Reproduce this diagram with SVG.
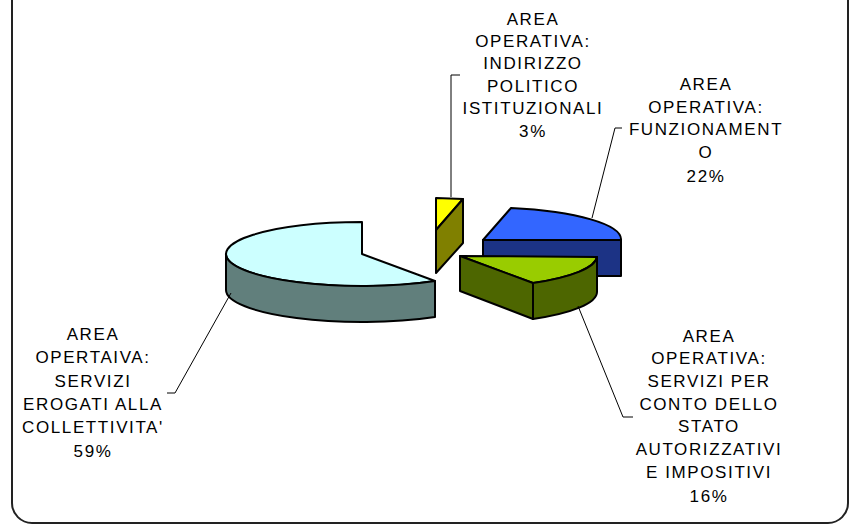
<svg xmlns="http://www.w3.org/2000/svg" width="854" height="524" viewBox="0 0 854 524">
<style>
.pie{stroke:#000;stroke-width:2;stroke-linejoin:round}
.lead{fill:none;stroke:#000;stroke-width:1}
.lbl{font-family:"Liberation Sans",Arial,sans-serif;font-size:17px;letter-spacing:1.6px;fill:#000;text-anchor:middle}
</style>
<rect x="12" y="-30" width="836" height="553" rx="20" ry="20" fill="#fff" stroke="#222" stroke-width="2"/>
<g id="slice-servizi-erogati">
<path class="pie" fill="#CCFFFF" d="M362,254 L362,222 A136,32 0 1,0 435,281 Z"/>
<path class="pie" fill="#617f7c" d="M226,254 A136,32 0 0,0 435,281 L435,317 A136,32 0 0,1 226,290 Z"/>
</g>
<g id="slice-indirizzo">
<path class="pie" fill="#FFFF00" d="M436,230 L436,198 L463,199 Z"/>
<path class="pie" fill="#808000" d="M436,230 L463,199 L463,243 L436,273 Z"/>
</g>
<g id="slice-funzionamento">
<path class="pie" fill="#3366FF" d="M483,240 L511,208 A137,32 0 0,1 621,240 Z"/>
<path class="pie" fill="#1C3385" d="M483,240 L621,240 L621,276 L483,276 Z"/>
</g>
<g id="slice-servizi-stato">
<path class="pie" fill="#99CC00" d="M460,256 L597,257 A137,32 0 0,1 533,283 Z"/>
<path class="pie" fill="#4D6600" d="M460,256 L533,283 L533,319 L460,291 Z"/>
<path class="pie" fill="#4D6600" d="M533,283 A137,32 0 0,0 597,257 L597,292 A137,32 0 0,1 533,319 Z"/>
</g>
<g id="connectors">
<polyline class="lead" points="460,75 451,75 451,197"/>
<polyline class="lead" points="622,128 615,128 592,218"/>
<polyline class="lead" points="578,306 623,417 633,417"/>
<polyline class="lead" points="231,293 175,393 167,393"/>
</g>
<g id="label-indirizzo">
<text class="lbl" x="533" y="25">AREA</text>
<text class="lbl" x="533" y="47">OPERATIVA:</text>
<text class="lbl" x="533" y="69">INDIRIZZO</text>
<text class="lbl" x="533" y="92">POLITICO</text>
<text class="lbl" x="533" y="114">ISTITUZIONALI</text>
<text class="lbl" x="533" y="137">3%</text>
</g>
<g id="label-funzionamento">
<text class="lbl" x="706" y="90">AREA</text>
<text class="lbl" x="706" y="113">OPERATIVA:</text>
<text class="lbl" x="706" y="135">FUNZIONAMENT</text>
<text class="lbl" x="706" y="158">O</text>
<text class="lbl" x="706" y="182">22%</text>
</g>
<g id="label-servizi-stato">
<text class="lbl" x="709" y="342">AREA</text>
<text class="lbl" x="709" y="364">OPERATIVA:</text>
<text class="lbl" x="709" y="387">SERVIZI PER</text>
<text class="lbl" x="709" y="410">CONTO DELLO</text>
<text class="lbl" x="709" y="432">STATO</text>
<text class="lbl" x="709" y="455">AUTORIZZATIVI</text>
<text class="lbl" x="709" y="478">E IMPOSITIVI</text>
<text class="lbl" x="709" y="502">16%</text>
</g>
<g id="label-servizi-erogati">
<text class="lbl" x="93" y="340">AREA</text>
<text class="lbl" x="93" y="363">OPERTAIVA:</text>
<text class="lbl" x="93" y="387">SERVIZI</text>
<text class="lbl" x="93" y="410">EROGATI ALLA</text>
<text class="lbl" x="93" y="433">COLLETTIVITA'</text>
<text class="lbl" x="93" y="457">59%</text>
</g>
</svg>
